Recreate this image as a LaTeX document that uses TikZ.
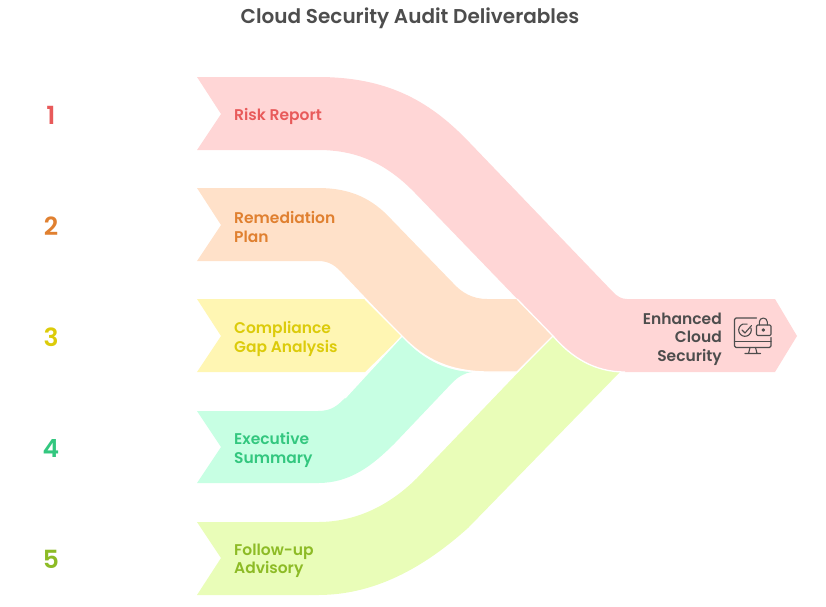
\documentclass[tikz,border=0pt]{standalone}
\usepackage{fontspec}
\setmainfont{Poppins}[BoldFont={Poppins SemiBold}]
\definecolor{pinkb}{HTML}{FFD6D6}
\definecolor{orangeb}{HTML}{FFE1C9}
\definecolor{yellowb}{HTML}{FFF6B3}
\definecolor{mintb}{HTML}{C7FFE3}
\definecolor{limeb}{HTML}{E9FDB8}
\definecolor{pinkt}{HTML}{E85A5A}
\definecolor{oranget}{HTML}{E08030}
\definecolor{yellowt}{HTML}{DCCB0A}
\definecolor{mintt}{HTML}{33C77F}
\definecolor{limet}{HTML}{8DBB26}
\definecolor{ink}{HTML}{4D4D4D}
\tikzset{
 x=1pt,y=-1pt,
 band/.style={draw=none},
 num/.style={font=\fontsize{25}{25}\selectfont\bfseries,anchor=center,inner sep=0pt},
 lab/.style={font=\fontsize{15.5}{18.5}\selectfont\bfseries,align=left,anchor=west,inner sep=0pt},
 ic/.style={draw=ink,line width=1.1pt,line cap=round,line join=round},
 sep/.style={draw=white,line width=1.3pt}
}
\begin{document}
\begin{tikzpicture}
\useasboundingbox (0,0) rectangle (826,606);
% bands
\fill[band,yellowb] (197,299) -- (365,299) -- (402,336) -- (365,372) -- (197,372) -- (221,336) -- cycle;
\fill[band,mintb] (197,411) -- (318,411) .. controls (332,411) and (338,405) .. (345,398) -- (402,336)
  .. controls (420,358) and (445,371) .. (472,372) .. controls (464,373) and (458,377) .. (452,383)
  -- (395,443) .. controls (372,466) and (350,483) .. (318,483) -- (197,483) -- (221,447) -- cycle;
\fill[band,limeb] (197,522) -- (318,522) .. controls (350,522) and (385,510) .. (417,478) -- (553,336)
  .. controls (570,358) and (595,371) .. (620,372) -- (468,528) .. controls (430,562) and (380,595) .. (318,595)
  -- (197,595) -- (221,558) -- cycle;
\fill[band,orangeb] (197,188) -- (318,188) .. controls (350,188) and (372,198) .. (392,220) -- (453,283)
  .. controls (462,293) and (473,299) .. (487,299) -- (517,299) -- (553,336) -- (517,372) -- (490,372)
  .. controls (450,372) and (425,360) .. (402,336) -- (345,276) .. controls (336,266) and (330,261) .. (318,261)
  -- (197,261) -- (221,225) -- cycle;
\fill[band,pinkb] (197,77) -- (318,77) .. controls (390,77) and (432,103) .. (470,143) -- (613,292)
  .. controls (617,296) and (621,299) .. (627,299) -- (775,299) -- (797,336) -- (775,372) -- (625,372)
  .. controls (595,372) and (572,358) .. (553,336) -- (415,193) .. controls (385,162) and (355,150) .. (318,150)
  -- (197,150) -- (221,114) -- cycle;
% separators
\draw[sep] (365,299) -- (402,336) (402,336) -- (345,398);
\draw[sep] (402,336) .. controls (425,360) and (450,372) .. (490,372) -- (517,372);
\draw[sep] (517,299) -- (553,336) -- (517,372);
\draw[sep] (553,336) .. controls (572,358) and (595,372) .. (625,372);
% title
\node[font=\fontsize{20}{22}\selectfont\bfseries,text=ink,inner sep=0pt] (title) at (410,18) {Cloud Security Audit Deliverables};
% numbers
\node[num,text=pinkt] (n1) at (51,115) {1};
\node[num,text=oranget] (n2) at (51,226) {2};
\node[num,text=yellowt] (n3) at (51,337) {3};
\node[num,text=mintt] (n4) at (51,448) {4};
\node[num,text=limet] (n5) at (51,559) {5};
% labels
\node[lab,text=pinkt] (l1) at (234,116.5) {Risk Report};
\node[lab,text=oranget] (l2) at (234,227) {Remediation\\Plan};
\node[lab,text=yellowt] (l3) at (234,339) {Compliance\\Gap Analysis};
\node[lab,text=mintt] (l4) at (234,450) {Executive\\Summary};
\node[lab,text=limet] (l5) at (234,561) {Follow-up\\Advisory};
\node[font=\fontsize{15.5}{18.5}\selectfont\bfseries,align=right,anchor=east,inner sep=0pt,text=ink] (l6) at (722,339) {Enhanced\\Cloud\\Security};
% icon
\draw[ic] (756.5,318) -- (736,318) .. controls (735,318) and (734.5,318.5) .. (734.5,319.5) -- (734.5,346) .. controls (734.5,347) and (735,347.5) .. (736,347.5) -- (769.5,347.5) .. controls (770.5,347.5) and (771,347) .. (771,346) -- (771,337.5);
\draw[ic] (734.5,341.5) -- (771,341.5);
\draw[ic] (750,347.5) -- (748.5,353.5) (755.5,347.5) -- (757,353.5) (745,353.5) -- (760.5,353.5);
\draw[ic] (750.9,327.85) arc (-20:290:6.3);
\draw[ic] (742,330) -- (745,333) -- (751.5,325.5);
\draw[ic,rounded corners=1.2pt] (756.5,325) rectangle (771,335.5);
\draw[ic] (759.3,325) -- (759.3,322) arc (180:360:4) -- (767.3,325);
\draw[ic] (763.3,330) circle (1.2);
\end{tikzpicture}
\end{document}
